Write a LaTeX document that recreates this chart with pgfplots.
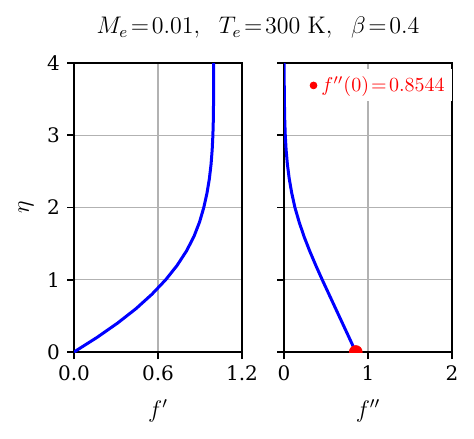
\documentclass[border=0pt]{standalone}
\usepackage[no-math]{fontspec}
\setmainfont{DejaVu Serif}
\usepackage{pgfplots}
\usepackage{pgfplotstable}
\pgfplotsset{compat=1.18}

\pgfplotstableread{
eta fp fpp
0.0 0.000 0.8544
0.2 0.163 0.775
0.4 0.311 0.695
0.6 0.443 0.615
0.8 0.557 0.535
1.0 0.655 0.455
1.2 0.737 0.378
1.4 0.804 0.305
1.6 0.857 0.238
1.8 0.897 0.180
2.0 0.927 0.130
2.2 0.950 0.092
2.4 0.967 0.062
2.6 0.979 0.040
2.8 0.987 0.025
3.0 0.992 0.015
3.2 0.995 0.009
3.5 0.997 0.004
4.0 0.998 0.001
}\fstable

\newcommand{\eq}{\mkern2mu{=}\mkern2mu}

\pgfplotsset{mystyle/.style={
  scale only axis, width=84pt, height=144.5pt,
  ymin=0, ymax=4, ytick={0,1,2,3,4},
  grid=major, grid style={line width=0.6pt, color=black!30},
  axis line style={line width=0.8pt},
  every tick/.style={line width=0.8pt, black},
  major tick length=3.5pt,
  tick align=outside, xtick pos=bottom, ytick pos=left,
  tick label style={font=\fontsize{10}{12}\selectfont},
  label style={font=\fontsize{11.5}{13}\selectfont},
  xlabel style={yshift=-2.5pt},
  /pgf/number format/assume math mode=true,
  clip marker paths=true,
}}

\begin{document}
\begin{tikzpicture}
\useasboundingbox (-37pt,-43pt) rectangle (200pt,176pt);
\begin{axis}[mystyle, at={(0,0)}, anchor=south west,
  xmin=0, xmax=1.2, xtick={0,0.6,1.2}, xticklabels={0.0,0.6,1.2},
  yticklabels={0,1,2,3,4},
  xlabel={$f'$}, ylabel={$\eta$}]
\addplot[blue, line width=1.5pt] table[x=fp, y=eta] {\fstable};
\end{axis}
\begin{axis}[mystyle, at={(105pt,0)}, anchor=south west,
  xmin=0, xmax=2, xtick={0,1,2}, xticklabels={0,1,2},
  yticklabels={},
  xlabel={$f''$},
  legend style={at={(1,1)}, anchor=north east, yshift=-3pt, draw=none, fill=white,
    font=\fontsize{10}{12}\selectfont, text=red, inner sep=1.5pt},
  legend cell align=left]
\addplot[blue, line width=1.5pt, forget plot] table[x=fpp, y=eta] {\fstable};
\addplot[only marks, mark=*, mark size=3.2pt, red,
  legend image code/.code={\fill[red] (0.5em+3pt,0) circle (1.7pt);}]
  coordinates {(0.8544,0)};
\addlegendentry{$f''(0)\eq0.8544$}
\end{axis}
\node[font=\fontsize{11.5}{14}\selectfont] at (92pt,162pt)
  {$M_e\eq0.01,\ \ T_e\eq300\ \mathrm{K},\ \ \beta\eq0.4$};
\end{tikzpicture}
\end{document}
